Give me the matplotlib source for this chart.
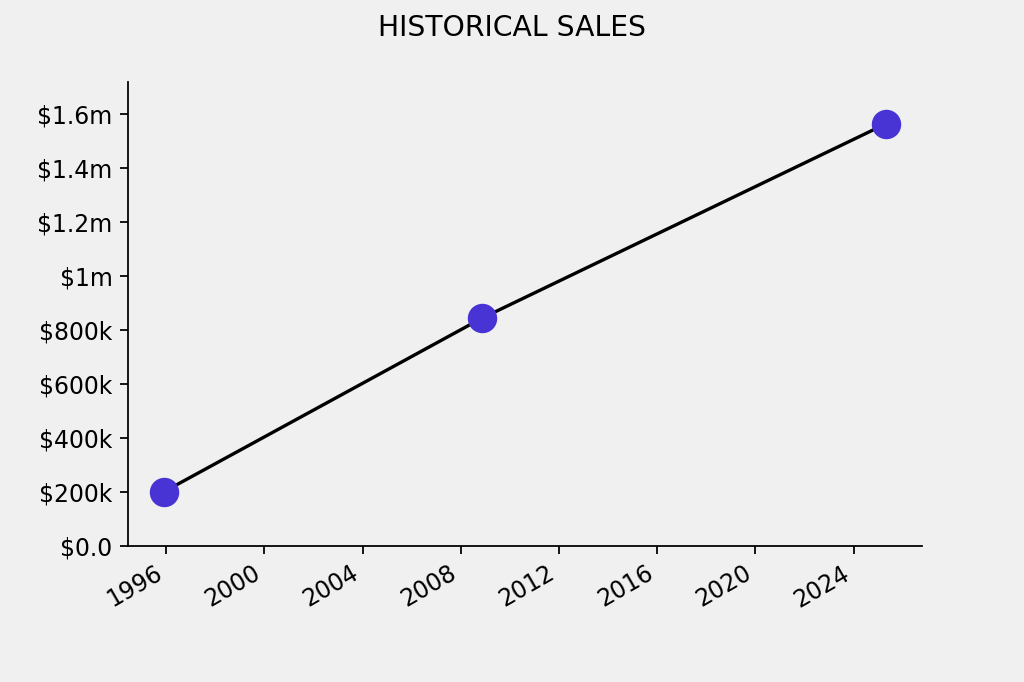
import numpy as np
import pandas as pd
import matplotlib
matplotlib.use("Agg")
import matplotlib.pyplot as plt
from matplotlib.ticker import FuncFormatter

dates = pd.to_datetime(["1995-12-01", "2008-11-10", "2025-04-20"])
sales = [200000, 843000, 1563000]


def money(x, pos):
    if x >= 1e6:
        return f"${x / 1e6:g}m"
    if x >= 1e3:
        return f"${x / 1e3:g}k"
    return f"${x:.1f}"


plt.rcParams["font.size"] = 10.6

fig, ax = plt.subplots(figsize=(6.4, 4.2625), dpi=160)
fig.patch.set_facecolor("#f0f0f0")
ax.set_facecolor("#f0f0f0")

ax.plot(dates, sales, color="black", linewidth=1.5, zorder=2)
ax.scatter(dates, sales, s=150, color="#4834d4", zorder=3)

ax.set_ylim(0, max(sales) * 1.1)
ax.yaxis.set_major_formatter(FuncFormatter(money))
ax.spines["top"].set_visible(False)
ax.spines["right"].set_visible(False)
fig.suptitle("HISTORICAL SALES")
fig.autofmt_xdate()

fig.savefig("out.png", dpi=160, facecolor=fig.get_facecolor())
